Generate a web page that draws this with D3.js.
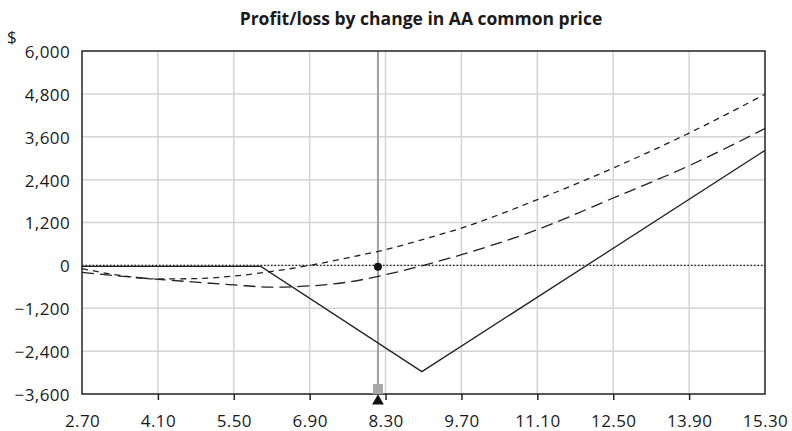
<!DOCTYPE html>
<html>
<head>
<meta charset="utf-8">
<script src="https://cdn.jsdelivr.net/npm/d3@7"></script>
<style>
  html, body { margin: 0; padding: 0; background: #fff; }
  svg { display: block; }
  text { font-family: "Open Sans", "Noto Sans", sans-serif; fill: #1a1a1a; }
</style>
</head>
<body>
<svg id="chart" width="792" height="431"></svg>
<script>
// ---- data ----
const title = "Profit/loss by change in AA common price";
const xTicks = [2.70, 4.10, 5.50, 6.90, 8.30, 9.70, 11.10, 12.50, 13.90, 15.30];
const yTicks = [-3600, -2400, -1200, 0, 1200, 2400, 3600, 4800, 6000];

// expiration profit/loss (solid)
const expiryPrice = [2.70, 6.00, 8.97, 15.30];
const expiryPL    = [-30, -30, -2975, 3217];

// short-dashed curve
const shortPrice = [2.7, 3.4, 4.1, 4.8, 5.5, 6.2, 6.9, 7.6, 8.3, 9.0, 9.7, 11.1, 12.5, 13.9, 15.3];
const shortPL    = [-90, -280, -380, -370, -300, -170, 0, 210, 440, 730, 1045, 1840, 2724, 3703, 4790];

// long-dashed curve
const longPrice = [2.7, 3.4, 4.1, 4.8, 5.5, 6.2, 6.9, 7.6, 8.3, 9.0, 9.7, 11.1, 12.5, 13.9, 15.3];
const longPL    = [-195, -300, -390, -470, -545, -610, -575, -470, -260, 0, 300, 1000, 1885, 2789, 3830];

// current price marker
const currentPrice = 8.16;
const currentPL = -40;

// ---- layout ----
const svg = d3.select("#chart");
const margin = {left: 82, right: 27, top: 51, bottom: 37};
const W = 792, H = 431;
const x = d3.scaleLinear().domain([2.70, 15.30]).range([margin.left, W - margin.right]);
const y = d3.scaleLinear().domain([-3600, 6000]).range([H - margin.bottom, margin.top]);

// grid
const grid = svg.append("g");
grid.selectAll(".gx").data(xTicks.slice(1, -1)).join("line")
  .attr("x1", d => x(d)).attr("x2", d => x(d))
  .attr("y1", y(6000)).attr("y2", y(-3600))
  .attr("stroke", "#d4d4d4").attr("stroke-width", 1.5);
grid.selectAll(".gy").data(yTicks.slice(1, -1)).join("line")
  .attr("x1", x(2.7)).attr("x2", x(15.3))
  .attr("y1", d => y(d)).attr("y2", d => y(d))
  .attr("stroke", "#d4d4d4").attr("stroke-width", 1.5);

// current price vertical line
svg.append("line")
  .attr("x1", x(currentPrice)).attr("x2", x(currentPrice))
  .attr("y1", y(6000)).attr("y2", y(-3600))
  .attr("stroke", "#a0a0a0").attr("stroke-width", 2);

// zero dotted line
svg.append("line")
  .attr("x1", x(2.7)).attr("x2", x(15.3))
  .attr("y1", y(0)).attr("y2", y(0))
  .attr("stroke", "#222").attr("stroke-width", 1.2)
  .attr("stroke-dasharray", "1.5,2");

const line = d3.line().x(d => x(d[0])).y(d => y(d[1]));
const smooth = d3.line().x(d => x(d[0])).y(d => y(d[1])).curve(d3.curveMonotoneX);

svg.append("path")
  .attr("d", smooth(d3.zip(longPrice, longPL)))
  .attr("fill", "none").attr("stroke", "#222").attr("stroke-width", 1.3)
  .attr("stroke-dasharray", "12,6");
svg.append("path")
  .attr("d", smooth(d3.zip(shortPrice, shortPL)))
  .attr("fill", "none").attr("stroke", "#222").attr("stroke-width", 1.3)
  .attr("stroke-dasharray", "6,5");
svg.append("path")
  .attr("d", line(d3.zip(expiryPrice, expiryPL)))
  .attr("fill", "none").attr("stroke", "#222").attr("stroke-width", 1.3);

// frame
svg.append("rect")
  .attr("x", x(2.7)).attr("y", y(6000))
  .attr("width", x(15.3) - x(2.7)).attr("height", y(-3600) - y(6000))
  .attr("fill", "none").attr("stroke", "#222").attr("stroke-width", 1.5);

// x axis ticks + labels
const xAxis = d3.axisBottom(x).tickValues(xTicks).tickSize(6).tickSizeOuter(0)
  .tickFormat(d3.format(".2f"));
const gx = svg.append("g").attr("transform", `translate(0,${y(-3600)})`).call(xAxis);
gx.select(".domain").remove();
gx.selectAll(".tick line").attr("stroke", "#222").attr("stroke-width", 1.5)
  .attr("display", (d, i) => (i === 0 || i === xTicks.length - 1) ? "none" : null);
gx.selectAll(".tick text").attr("y", 21).attr("dy", "0.71em")
  .style("font-size", "17px").style("letter-spacing", "0.4px").attr("fill", "#1a1a1a");

// y axis labels
const yAxis = d3.axisLeft(y).tickValues(yTicks).tickSize(0)
  .tickFormat(d => d < 0 ? "\u2212" + d3.format(",")(-d) : d3.format(",")(d));
const gy = svg.append("g").attr("transform", `translate(${x(2.7)},0)`).call(yAxis);
gy.select(".domain").remove();
gy.selectAll(".tick text").attr("x", -12).attr("dy", "0.38em")
  .style("font-size", "17px").style("letter-spacing", "0.4px").attr("fill", "#1a1a1a");

// $ label
svg.append("text").attr("x", 7).attr("y", 43).text("$")
  .style("font-size", "17px");

// title
svg.append("text").attr("x", 421).attr("y", 25).attr("text-anchor", "middle")
  .style("font-size", "17.5px").style("font-weight", "bold").text(title);

// markers
svg.append("rect")
  .attr("x", x(currentPrice) - 5).attr("y", y(-3600) - 10)
  .attr("width", 10).attr("height", 10).attr("fill", "#a8a8a8");
svg.append("path")
  .attr("d", d3.symbol().type(d3.symbolTriangle).size(60)())
  .attr("transform", `translate(${x(currentPrice)},${y(-3600) + 7})`)
  .attr("fill", "#111");
svg.append("circle")
  .attr("cx", x(currentPrice)).attr("cy", y(currentPL)).attr("r", 4)
  .attr("fill", "#111");
</script>
</body>
</html>
